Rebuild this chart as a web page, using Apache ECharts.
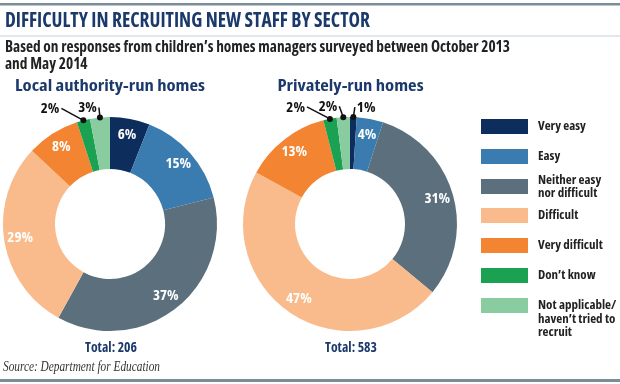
<!DOCTYPE html>
<html><head><meta charset="utf-8">
<script src="https://cdn.jsdelivr.net/npm/echarts@6/dist/echarts.min.js"></script>
<style>html,body{margin:0;padding:0;background:#fff}#c{width:620px;height:384px}</style>
</head><body><div id="c"></div>
<script>
// ---------- data ----------
const categories = ['Very easy', 'Easy', 'Neither easy\nnor difficult', 'Difficult', 'Very difficult', 'Don\u2019t know', 'Not applicable/\nhaven\u2019t tried to\nrecruit'];
const localValues = [6, 15, 37, 29, 8, 2, 3];
const privateValues = [1, 4, 31, 47, 13, 2, 2];
const localTotal = 206;
const privateTotal = 583;
const chartTitle = 'DIFFICULTY IN RECRUITING NEW STAFF BY SECTOR';
const subtitleLines = ['Based on responses from children\u2019s homes managers surveyed between October 2013', 'and May 2014'];
const localTitle = 'Local authority-run homes';
const privateTitle = 'Privately-run homes';
const sourceText = 'Source: Department for Education';

// ---------- styles ----------
const colors = ['#0d2d5c', '#3a7cb0', '#5b707c', '#f9bb8b', '#f28432', '#1aa152', '#88cca0'];
const NAVY = '#1b3a6b';

// pick the narrowest installed bold face among candidates
const ctx = document.createElement('canvas').getContext('2d');
const candidates = [
  ['', '"Liberation Sans"'],
  ['condensed', '"Noto Sans"'],
  ['condensed', '"Open Sans"'],
  ['', '"Liberation Sans Narrow"'],
  ['', '"DejaVu Sans Condensed"'],
  ['condensed', '"DejaVu Sans"'],
  ['condensed', 'Roboto'],
  ['condensed', 'Inter']
];
let best = candidates[0], bestW = Infinity;
candidates.forEach(c => {
  ctx.font = (c[0] ? c[0] + ' ' : '') + 'bold 20px ' + c[1] + ', "Liberation Sans"';
  const w = ctx.measureText('Very easy Neither difficult 1234%').width;
  if (w < bestW - 0.5) { bestW = w; best = c; }
});
const STRETCH = best[0];
const FAM = best[1] + ', "Liberation Sans", sans-serif';
function F(weight, size) { return (STRETCH ? STRETCH + ' ' : '') + weight + ' ' + size + 'px ' + FAM; }
const LABEL_FONT = F('bold', 15);

// outside label leader offsets [dx, dy, align] keyed by category index
const localOutside = {5: [-22, -12, 'right'], 6: [-1, -10, 'right']};
const privateOutside = {0: [1.5, -10, 'left'], 5: [-23, -12, 'right'], 6: [-4, -11, 'right']};

function fitScale(text, font, targetW) { ctx.font = font; return targetW / ctx.measureText(text).width; }

function txt(text, font, x, y, align, fill, targetW, scaleOverride) {
  const s = scaleOverride != null ? scaleOverride : (targetW ? fitScale(text, font, targetW) : 1);
  return {type: 'text', x: x, y: y, scaleX: s, silent: true,
    style: {text: text, font: font, align: align, verticalAlign: 'middle', fill: fill}};
}

function pieSeries(values, center) {
  return {
    type: 'pie', center: center, radius: [55, 107], startAngle: 90, clockwise: true,
    label: {show: false}, labelLine: {show: false}, silent: true,
    emphasis: {disabled: true},
    data: categories.map((n, i) => ({name: n, value: values[i], itemStyle: {color: colors[i]}}))
  };
}

function labelSeries(polarIndex, values, outside) {
  const data = [];
  let cum = 0;
  values.forEach((v, i) => { data.push([1, cum + v / 2, v, i]); cum += v; });
  return {
    type: 'custom', coordinateSystem: 'polar', polarIndex: polarIndex, data: data,
    encode: {radius: 0, angle: 1}, silent: true, z: 10,
    renderItem: function (params, api) {
      const mid = api.value(1), v = api.value(2), i = api.value(3);
      const t = v + '%';
      const off = outside[i];
      if (!off) {
        const p = api.coord([0.85, mid]);
        return {type: 'text', x: p[0], y: p[1], style: {text: t, align: 'center', verticalAlign: 'middle', fill: '#fff', font: LABEL_FONT}};
      }
      const p0 = api.coord([1, mid]);
      const end = [p0[0] + off[0], p0[1] + off[1]];
      return {type: 'group', children: [
        {type: 'polyline', shape: {points: [p0, end]}, style: {stroke: '#111', lineWidth: 1.5, fill: null}},
        {type: 'circle', shape: {cx: p0[0], cy: p0[1], r: 3}, style: {fill: '#111'}},
        {type: 'text', x: end[0] + (off[2] === 'left' ? 2 : -2), y: end[1] + 0.5,
          style: {text: t, align: off[2], verticalAlign: 'middle', fill: '#111', font: LABEL_FONT}}
      ]};
    }
  };
}

// legend: one component per entry so each swatch sits on its own row
const iconTops = [119, 149, 179, 208, 238, 268, 298];
const LH = 13.3;
const legends = categories.map((name, i) => {
  const shown = i === 6 ? '\n\n' + name : name;
  const lines = shown.split('\n').length;
  const boxH = Math.max(15, lines * LH);
  return {
    orient: 'vertical', left: 481, top: iconTops[i] + 7.5 - boxH / 2, padding: 0, itemGap: 0,
    itemWidth: 47, itemHeight: 15, icon: 'rect', selectedMode: false,
    data: [name],
    formatter: function (n) { return n === categories[6] ? '\n\n' + n : n; },
    textStyle: {fontFamily: FAM, fontStyle: STRETCH || 'normal', fontSize: 13, fontWeight: 'bold', color: '#222', lineHeight: LH, padding: [0, 0, 0, 5]}
  };
});

const subFont = F('bold', 16);
const subScale = fitScale(subtitleLines[0], subFont, 505);
const dtFont = F('bold', 15.5);
const dtScale = fitScale(localTitle, dtFont, 190);
const totFont = F('bold', 15);
const totScale = fitScale('Total: ' + localTotal, totFont, 52);

const chart = echarts.init(document.getElementById('c'), null, {renderer: 'canvas'});
chart.setOption({
  animation: false,
  backgroundColor: '#fff',
  legend: legends,
  polar: [{center: [110, 224], radius: 107}, {center: [350, 224], radius: 107}],
  angleAxis: [
    {polarIndex: 0, type: 'value', min: 0, max: 100, startAngle: 90, clockwise: true, show: false},
    {polarIndex: 1, type: 'value', min: 0, max: 100, startAngle: 90, clockwise: true, show: false}
  ],
  radiusAxis: [
    {polarIndex: 0, type: 'value', min: 0, max: 1, show: false},
    {polarIndex: 1, type: 'value', min: 0, max: 1, show: false}
  ],
  series: [
    pieSeries(localValues, [110, 224]),
    pieSeries(privateValues, [350, 224]),
    labelSeries(0, localValues, localOutside),
    labelSeries(1, privateValues, privateOutside)
  ],
  graphic: [
    {type: 'rect', silent: true, shape: {x: 0, y: 3, width: 620, height: 2.5}, style: {fill: '#7a8e9a'}},
    {type: 'rect', silent: true, shape: {x: 0, y: 35.5, width: 620, height: 1}, style: {fill: '#c5d0d9'}},
    {type: 'rect', silent: true, shape: {x: 0, y: 379, width: 620, height: 3}, style: {fill: '#7a8e9a'}},
    txt(chartTitle, F('bold', 22), 5, 20.5, 'left', NAVY, 365),
    txt(subtitleLines[0], subFont, 5, 47.5, 'left', '#222', null, subScale),
    txt(subtitleLines[1], subFont, 5, 64, 'left', '#222', null, subScale),
    txt(localTitle, dtFont, 110, 87, 'center', NAVY, null, dtScale),
    txt(privateTitle, dtFont, 350.5, 87, 'center', NAVY, null, dtScale),
    txt('Total: ' + localTotal, totFont, 111, 347.5, 'center', NAVY, null, totScale),
    txt('Total: ' + privateTotal, totFont, 351, 347.5, 'center', NAVY, null, totScale),
    txt(sourceText, 'italic 14px "Liberation Serif", serif', 3, 367, 'left', '#333', 157)
  ]
});
</script>
</body></html>
